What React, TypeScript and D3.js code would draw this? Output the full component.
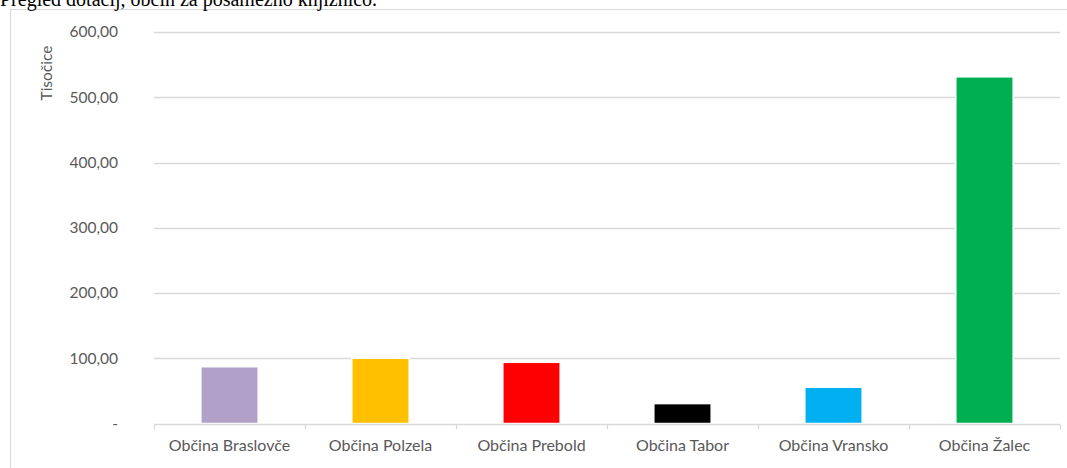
import { useEffect, useRef } from "react";
import * as d3 from "d3";

// dotacije občin (v tisočih EUR), odčitano s slike
const CATEGORIES = [
  "Občina Braslovče",
  "Občina Polzela",
  "Občina Prebold",
  "Občina Tabor",
  "Občina Vransko",
  "Občina Žalec",
];
const VALUES = [87, 100, 93.8, 30.5, 55.6, 531.3];
const COLORS = ["#b1a0c7", "#ffc000", "#ff0000", "#000000", "#00b0f0", "#00b050"];
const Y_TICKS = [0, 100, 200, 300, 400, 500, 600];

const W = 1067;
const H = 468;
const M = { top: 32, right: 7, bottom: 44.5, left: 154 };
const FONT = "Lato, 'Open Sans', sans-serif";

const fmt = (d: number) => (d === 0 ? "-" : d.toFixed(2).replace(".", ","));

export default function App() {
  const svgRef = useRef<SVGSVGElement | null>(null);

  useEffect(() => {
    const svg = d3.select(svgRef.current);
    svg.selectAll("*").remove();

    const x = d3
      .scaleBand<string>()
      .domain(CATEGORIES)
      .range([M.left, W - M.right])
      .paddingInner(0.62)
      .paddingOuter(0.31);
    const y = d3
      .scaleLinear()
      .domain([0, 600])
      .range([H - M.bottom, M.top]);

    // chart frame
    svg
      .append("rect")
      .attr("x", 10.5)
      .attr("y", 9.5)
      .attr("width", W + 20)
      .attr("height", H + 20)
      .attr("fill", "#fff")
      .attr("stroke", "#d9d9d9");

    // heading above the chart (cut off at the top, as in the source)
    svg
      .append("text")
      .attr("x", 0)
      .attr("y", 5.5)
      .attr("font-family", "'Liberation Serif', serif")
      .attr("font-size", 20)
      .attr("fill", "#000")
      .text("Pregled dotacij, občin za posamezno knjižnico.");

    // gridlines
    svg
      .append("g")
      .selectAll("line")
      .data(Y_TICKS.filter((d) => d > 0))
      .join("line")
      .attr("x1", M.left)
      .attr("x2", W - M.right)
      .attr("y1", (d) => Math.round(y(d)) + 0.5)
      .attr("y2", (d) => Math.round(y(d)) + 0.5)
      .attr("stroke", "#d9d9d9")
      .attr("stroke-width", 1.3);

    // y tick labels
    svg
      .append("g")
      .selectAll("text")
      .data(Y_TICKS)
      .join("text")
      .attr("x", 118)
      .attr("y", (d) => y(d))
      .attr("dy", "0.35em")
      .attr("text-anchor", "end")
      .attr("font-family", FONT)
      .attr("font-size", 15.5)
      .attr("fill", "#595959")
      .text(fmt);

    // y title
    svg
      .append("text")
      .attr("transform", `translate(52,73) rotate(-90)`)
      .attr("text-anchor", "middle")
      .attr("font-family", FONT)
      .attr("font-size", 15.5)
      .attr("fill", "#595959")
      .text("Tisočice");

    // bars
    svg
      .append("g")
      .selectAll("rect")
      .data(VALUES)
      .join("rect")
      .attr("x", (_d, i) => x(CATEGORIES[i])!)
      .attr("width", x.bandwidth())
      .attr("y", (d) => y(d))
      .attr("height", (d) => y(0) - y(d))
      .attr("fill", (_d, i) => COLORS[i])
      .attr("stroke", "#fff")
      .attr("stroke-width", 1.5);

    // x axis
    const base = Math.round(y(0)) + 0.5;
    const step = x.step();
    const bounds = d3.range(CATEGORIES.length + 1).map((i) => M.left + i * step);
    svg
      .append("line")
      .attr("x1", M.left)
      .attr("x2", W - M.right)
      .attr("y1", base)
      .attr("y2", base)
      .attr("stroke", "#d9d9d9")
      .attr("stroke-width", 1.3);
    svg
      .append("g")
      .selectAll("line")
      .data(bounds)
      .join("line")
      .attr("x1", (d) => Math.round(d) + 0.5)
      .attr("x2", (d) => Math.round(d) + 0.5)
      .attr("y1", base)
      .attr("y2", base + 5)
      .attr("stroke", "#d9d9d9")
      .attr("stroke-width", 1.3);

    svg
      .append("g")
      .selectAll("text")
      .data(CATEGORIES)
      .join("text")
      .attr("x", (d) => x(d)! + x.bandwidth() / 2)
      .attr("y", base + 26)
      .attr("text-anchor", "middle")
      .attr("font-family", FONT)
      .attr("font-size", 16)
      .attr("fill", "#595959")
      .text((d) => d);
  }, []);

  return (
    <div style={{ position: "absolute", left: 0, top: 0, width: W, height: H, overflow: "hidden" }}>
      <svg ref={svgRef} width={W} height={H} style={{ display: "block", background: "#fff" }} />
    </div>
  );
}
